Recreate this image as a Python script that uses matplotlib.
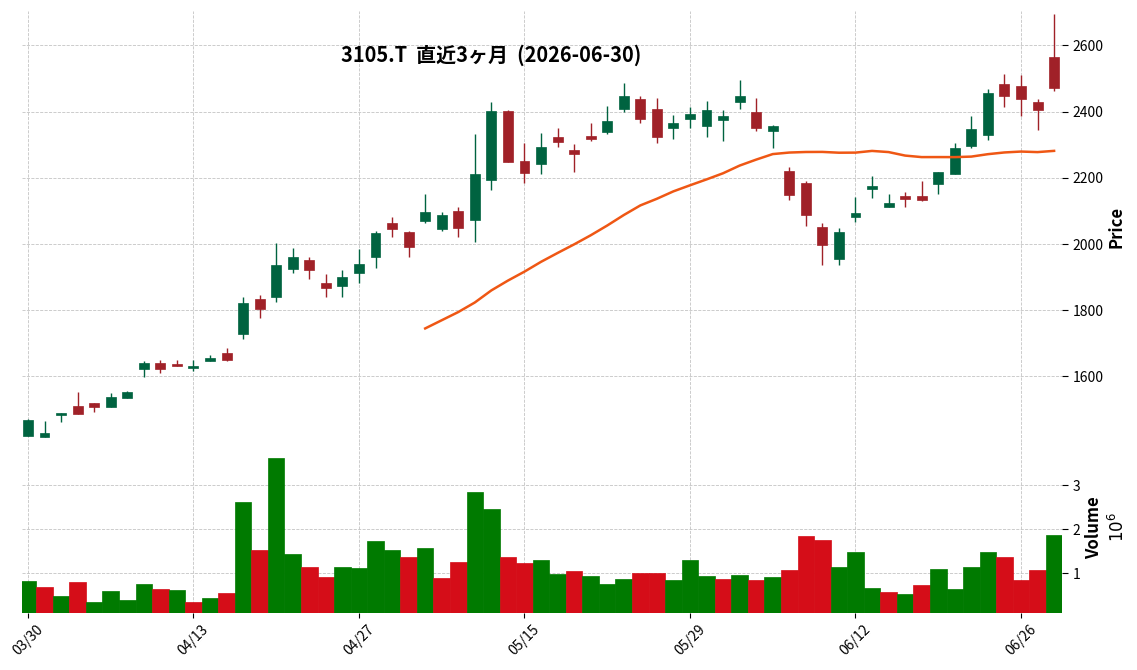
import numpy as np
import pandas as pd
import matplotlib
matplotlib.use("Agg")
import matplotlib.pyplot as plt
from matplotlib.ticker import MultipleLocator

plt.rcParams['font.family'] = ['Noto Sans CJK JP', 'DejaVu Sans']

title = "3105.T  直近3ヶ月  (2026-06-30)"

dates = ["03/30", "03/31", "04/01", "04/02", "04/03", "04/06", "04/07", "04/08", "04/09", "04/10",
         "04/13", "04/14", "04/15", "04/16", "04/17", "04/20", "04/21", "04/22", "04/23", "04/24",
         "04/27", "04/28", "04/30", "05/01", "05/07", "05/08", "05/11", "05/12", "05/13", "05/14",
         "05/15", "05/18", "05/19", "05/20", "05/21", "05/22", "05/25", "05/26", "05/27", "05/28",
         "05/29", "06/01", "06/02", "06/03", "06/04", "06/05", "06/08", "06/09", "06/10", "06/11",
         "06/12", "06/15", "06/16", "06/17", "06/18", "06/19", "06/22", "06/23", "06/24", "06/25",
         "06/26", "06/29", "06/30"]

opens = [1421, 1418, 1483, 1510, 1519, 1508, 1536, 1623, 1640, 1638,
         1627, 1648, 1671, 1729, 1834, 1840, 1925, 1951, 1881, 1874,
         1913, 1962, 2063, 2036, 2070, 2045, 2100, 2072, 2193, 2402,
         2251, 2242, 2323, 2284, 2326, 2338, 2408, 2438, 2408, 2351,
         2378, 2357, 2375, 2430, 2399, 2342, 2220, 2184, 2051, 1956,
         2082, 2167, 2113, 2146, 2145, 2182, 2212, 2297, 2330, 2483,
         2477, 2429, 2565]
highs = [1470, 1464, 1489, 1552, 1521, 1549, 1555, 1648, 1651, 1651,
         1650, 1664, 1686, 1839, 1846, 2003, 1988, 1960, 1911, 1923,
         1984, 2039, 2083, 2040, 2150, 2098, 2111, 2331, 2428, 2405,
         2304, 2334, 2350, 2301, 2367, 2416, 2486, 2446, 2440, 2389,
         2413, 2432, 2405, 2497, 2440, 2361, 2232, 2189, 2065, 2047,
         2143, 2207, 2150, 2158, 2189, 2217, 2304, 2386, 2467, 2515,
         2511, 2437, 2694]
lows = [1419, 1416, 1461, 1487, 1494, 1507, 1534, 1597, 1609, 1631,
        1616, 1646, 1648, 1714, 1776, 1824, 1912, 1895, 1840, 1840,
        1883, 1927, 2022, 1960, 2064, 2038, 2020, 2005, 2162, 2248,
        2183, 2213, 2292, 2218, 2310, 2331, 2400, 2366, 2304, 2316,
        2352, 2324, 2312, 2407, 2340, 2289, 2132, 2055, 1938, 1938,
        2068, 2138, 2111, 2111, 2131, 2150, 2212, 2289, 2313, 2413,
        2386, 2346, 2463]
closes = [1468, 1429, 1489, 1488, 1508, 1538, 1553, 1640, 1623, 1633,
          1632, 1656, 1651, 1822, 1804, 1937, 1960, 1922, 1867, 1900,
          1939, 2033, 2046, 1992, 2096, 2087, 2048, 2211, 2402, 2248,
          2215, 2293, 2308, 2273, 2318, 2371, 2447, 2378, 2324, 2365,
          2393, 2405, 2387, 2447, 2351, 2356, 2149, 2088, 1998, 2036,
          2094, 2176, 2124, 2137, 2133, 2217, 2290, 2347, 2456, 2448,
          2439, 2406, 2471]
volume = [830000, 690000, 490000, 805000, 356000, 600000, 400000, 760000, 648000, 625000,
          356000, 446000, 558000, 2625000, 1524000, 3614000, 1434000, 1142000, 918000, 1142000,
          1120000, 1727000, 1524000, 1367000, 1569000, 895000, 1255000, 2850000, 2468000, 1367000,
          1232000, 1300000, 985000, 1052000, 940000, 760000, 873000, 1007000, 1007000, 850000,
          1300000, 940000, 873000, 963000, 850000, 918000, 1075000, 1839000, 1749000, 1142000,
          1479000, 670000, 580000, 536000, 738000, 1097000, 648000, 1142000, 1479000, 1367000,
          850000, 1075000, 1861000]

df = pd.DataFrame({"Open": opens, "High": highs, "Low": lows, "Close": closes, "Volume": volume})
df["MA25"] = df["Close"].rolling(25).mean()
x = np.arange(len(df))

# candle colours (charles style)
up_c, down_c = "#006340", "#a02128"
vup_c, vdown_c = "#007a00", "#d50d18"
candle_colors = np.where(df.Close >= df.Open, up_c, down_c)
prev_close = df.Close.shift(1).fillna(df.Close.iloc[0] - 1)
vol_colors = np.where(df.Close >= prev_close, vup_c, vdown_c)

fig = plt.figure(figsize=(11.37, 6.70), dpi=100)
left, width = 22 / 1137, (1061.7 - 22) / 1137
ax = fig.add_axes([left, 1 - 442 / 670, width, (442 - 11) / 670])
axv = fig.add_axes([left, 1 - 612.7 / 670, width, (612.7 - 442) / 670], sharex=ax)

grid_kw = dict(color="#c4c4c4", linestyle="--", linewidth=0.6)

# price panel
ax.vlines(x, df.Low, df.High, color=candle_colors, linewidth=1.0, zorder=2)
ax.bar(x, df.Close - df.Open, bottom=df.Open, width=0.6, color=candle_colors,
       edgecolor=candle_colors, linewidth=0.5, zorder=3)
ax.plot(x, df.MA25, color="#ef5714", linewidth=1.8, zorder=4)
ax.set_ylim(1402, 2704)
ax.yaxis.set_major_locator(MultipleLocator(200))
ax.yaxis.tick_right()
ax.yaxis.set_label_position("right")
ax.set_ylabel("Price", fontsize=12, fontweight="bold", labelpad=3)
ax.tick_params(axis="y", labelsize=10, length=4, width=0.8, pad=4)
ax.tick_params(axis="x", length=0, labelbottom=False)
ax.grid(True, **grid_kw)

# volume panel
vol_m = df.Volume / 1e6
axv.bar(x, vol_m, width=1.0, color=vol_colors, edgecolor=vol_colors, linewidth=0.5)
axv.set_ylim(0.3 * vol_m.min(), 1.1 * vol_m.max())
axv.yaxis.set_major_locator(MultipleLocator(1))
axv.yaxis.tick_right()
axv.yaxis.set_label_position("right")
axv.set_ylabel("Volume\n$10^{6}$", fontsize=12, fontweight="bold", labelpad=3, linespacing=1.35)
axv.tick_params(axis="y", labelsize=10, length=4, width=0.8, pad=4)
axv.set_xticks(x[::10])
axv.set_xticklabels(dates[::10], rotation=45)
axv.tick_params(axis="x", labelsize=10, length=3.5, width=0.8)
axv.grid(True, **grid_kw)
axv.set_xlim(-0.36, 62.46)

for a in (ax, axv):
    for s in a.spines.values():
        s.set_visible(False)
    a.set_axisbelow(True)

fig.text(491 / 1137, 1 - 55 / 670, title, ha="center", va="center",
         fontsize=14.4, fontweight="bold")

fig.savefig("out.png", dpi=100)
